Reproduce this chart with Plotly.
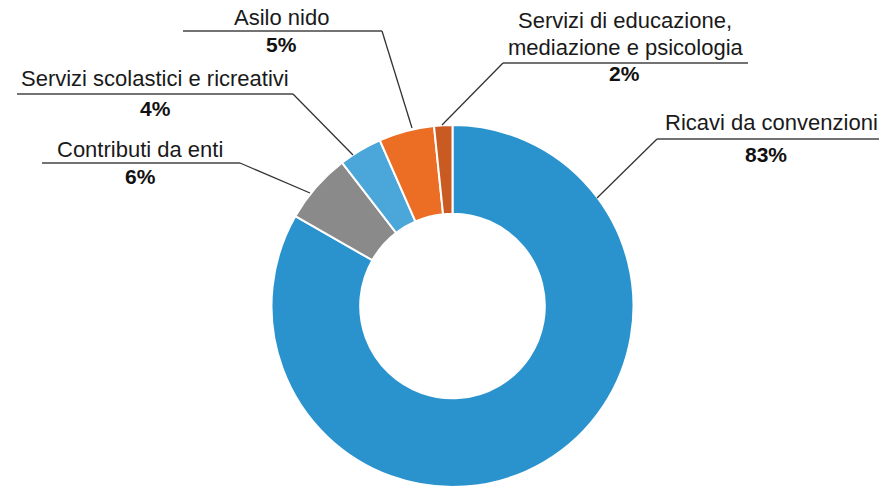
import plotly.graph_objects as go

# ---- data (clockwise from 12 o'clock) ----
categories = [
    "Ricavi da convenzioni",
    "Contributi da enti",
    "Servizi scolastici e ricreativi",
    "Asilo nido",
    "Servizi di educazione,<br>mediazione e psicologia",
]
values = [83.26, 6.29, 3.87, 4.95, 1.63]
colors = ["#2A93CE", "#8A8A8A", "#4BA6DA", "#EC6D24", "#C95B22"]

W, H = 890, 488
total = sum(values)
pcts = [f"{round(v / total * 100)}%" for v in values]

# ---- label layout (window pixel positions) ----
label_layout = [
    dict(lines=[(771, 123)], rule_y=139, rule_x=(657, 879), pct=(766, 154), lead=((657, 139), (597, 198))),
    dict(lines=[(140, 149)], rule_y=163, rule_x=(42, 240), pct=(140, 177), lead=((240, 163), (310, 193))),
    dict(lines=[(154.5, 78)], rule_y=94, rule_x=(17, 293), pct=(155, 108), lead=((293, 94), (353, 155))),
    dict(lines=[(281.5, 17)], rule_y=31, rule_x=(183, 382), pct=(281, 45), lead=((382, 31), (412, 128))),
    dict(lines=[(625, 20.5), (625.5, 47)], rule_y=63, rule_x=(503, 748), pct=(624, 73), lead=((503, 63), (442, 125))),
]

FONT = "Liberation Sans, Arial, Helvetica, sans-serif"

def px(x):
    return x / W

def py(y):
    return 1 - y / H

cx, cy, R = 452.5, 306, 181

fig = go.Figure(
    go.Pie(
        labels=[c.replace("<br>", " ") for c in categories],
        values=values,
        sort=False,
        direction="clockwise",
        rotation=0,
        hole=0.51,
        marker=dict(colors=colors, line=dict(color="white", width=2)),
        textinfo="none",
        hoverinfo="label+percent",
        showlegend=False,
        domain=dict(x=[px(cx - R), px(cx + R)], y=[max(0, py(cy + R)), py(cy - R)]),
    )
)

annotations = []
shapes = []
for cat, pct, lay in zip(categories, pcts, label_layout):
    parts = cat.split("<br>")
    for text, (x, y) in zip(parts, lay["lines"]):
        annotations.append(dict(
            x=px(x), y=py(y), xref="paper", yref="paper", text=text,
            showarrow=False, xanchor="center", yanchor="middle",
            font=dict(family=FONT, size=22, color="#1a1a1a"),
        ))
    annotations.append(dict(
        x=px(lay["pct"][0]), y=py(lay["pct"][1]), xref="paper", yref="paper",
        text=f"<b>{pct}</b>", showarrow=False, xanchor="center", yanchor="middle",
        font=dict(family=FONT, size=21, color="#111111"),
    ))
    x0, x1 = lay["rule_x"]
    shapes.append(dict(type="line", xref="paper", yref="paper",
                       x0=px(x0), x1=px(x1), y0=py(lay["rule_y"]), y1=py(lay["rule_y"]),
                       line=dict(color="#444444", width=1.5)))
    (a, b), (c, d) = lay["lead"]
    shapes.append(dict(type="line", xref="paper", yref="paper",
                       x0=px(a), y0=py(b), x1=px(c), y1=py(d),
                       line=dict(color="#333333", width=1.3)))

fig.update_layout(
    width=W, height=H,
    margin=dict(l=0, r=0, t=0, b=0),
    paper_bgcolor="white", plot_bgcolor="white",
    annotations=annotations, shapes=shapes,
)

fig.write_html(
    "out.html",
    config={"displayModeBar": False},
    post_script="document.body.style.margin='0';document.body.style.overflow='hidden';",
)
